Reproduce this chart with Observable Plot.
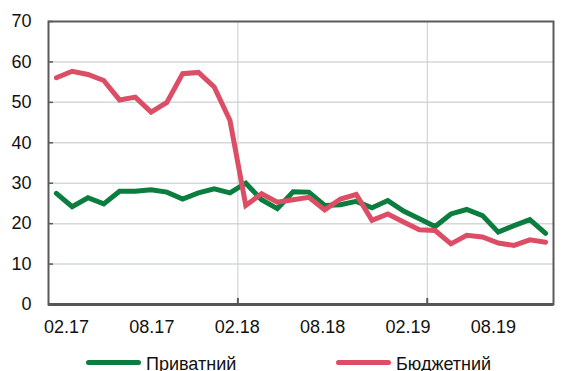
<!DOCTYPE html>
<html>
<head>
<meta charset="utf-8">
<script src="https://cdn.jsdelivr.net/npm/d3@7"></script>
<script src="https://cdn.jsdelivr.net/npm/@observablehq/plot@0.6"></script>
<style>
  html, body { margin: 0; padding: 0; background: #fff; }
  body { width: 576px; height: 371px; overflow: hidden; position: relative; font-family: "Liberation Sans", Arial, sans-serif; }
  #legend { position: absolute; left: 0; top: 345px; width: 576px; height: 40px; }
  .item { position: absolute; top: 9px; font-size: 18px; color: #111; white-space: nowrap; }
  .sw { display: inline-block; width: 55px; height: 5px; border-radius: 3px; vertical-align: middle; margin-right: 5px; position: relative; top: -3px; }
</style>
</head>
<body>
<div id="chart"></div>
<div id="legend"></div>
<script>
const months = ["01.17","02.17","03.17","04.17","05.17","06.17","07.17","08.17","09.17","10.17","11.17","12.17",
                "01.18","02.18","03.18","04.18","05.18","06.18","07.18","08.18","09.18","10.18","11.18","12.18",
                "01.19","02.19","03.19","04.19","05.19","06.19","07.19","08.19"];
const privateSeries = [27.5,24.2,26.4,24.9,28.0,28.0,28.4,27.8,26.1,27.6,28.6,27.6,
                       30.0,25.9,23.7,27.9,27.8,24.5,24.7,25.5,23.9,25.7,23.1,21.2,
                       19.3,22.4,23.5,22.0,17.9,19.5,21.0,17.6];
const budgetSeries = [56.1,57.7,56.9,55.4,50.6,51.3,47.6,50.0,57.1,57.4,53.8,45.5,
                      24.5,27.4,25.3,25.9,26.5,23.4,26.1,27.2,20.8,22.4,20.4,18.5,
                      18.3,15.0,17.1,16.7,15.2,14.6,16.0,15.4];
const seriesNames = ["Приватний", "Бюджетний"];
const seriesColors = ["#0b7d3e", "#dc4e66"];
const xTickLabels = ["02.17","08.17","02.18","08.18","02.19","08.19"];
const xTickPos = [0.64, 6.05, 11.46, 16.87, 22.28, 27.69];
const yTicks = [0,10,20,30,40,50,60,70];
const yearBreaks = [11.5, 23.5];

const data = [];
months.forEach((m, i) => {
  data.push({i, month: m, series: seriesNames[0], value: privateSeries[i]});
});
months.forEach((m, i) => {
  data.push({i, month: m, series: seriesNames[1], value: budgetSeries[i]});
});

const chart = Plot.plot({
  width: 576,
  height: 345,
  marginLeft: 48,
  marginRight: 23,
  marginTop: 21,
  marginBottom: 41,
  style: {fontFamily: "'Liberation Sans', Arial, sans-serif", fontSize: "18px", color: "#111"},
  x: {domain: [-0.5, months.length - 0.5], label: null},
  y: {domain: [0, 70], label: null},
  color: {domain: seriesNames, range: seriesColors},
  marks: [
    Plot.ruleY(yTicks.filter(d => d > 0 && d < 70), {stroke: "#d5d8db", strokeWidth: 1.5}),
    Plot.ruleX(yearBreaks, {stroke: "#c9ccd1", strokeWidth: 1}),
    Plot.ruleX(yearBreaks, {y1: 0, y2: 1.5, stroke: "#595959", strokeWidth: 2}),
    Plot.frame({stroke: "#5a5a5a", strokeWidth: 2}),
    Plot.ruleY([0], {stroke: "#555", strokeWidth: 3}),
    Plot.axisY(yTicks, {label: null, tickSize: -5, tickPadding: 22, stroke: "#5a5a5a", strokeWidth: 1.5, fill: "#111", fontSize: 18}),
    Plot.axisX(xTickPos, {label: null, tickSize: 0, tickPadding: 16, tickFormat: (d, k) => xTickLabels[k], fill: "#111", fontSize: 18}),
    Plot.line(data, {x: "i", y: "value", z: "series", stroke: "series", strokeWidth: 5, strokeLinejoin: "miter", strokeMiterlimit: 2, curve: "linear"})
  ]
});
document.getElementById("chart").appendChild(chart);

const legend = document.getElementById("legend");
const legendLeft = [86, 336];
seriesNames.forEach((name, k) => {
  const item = document.createElement("div");
  item.className = "item";
  item.style.left = legendLeft[k] + "px";
  const sw = document.createElement("span");
  sw.className = "sw";
  sw.style.background = seriesColors[k];
  item.appendChild(sw);
  item.appendChild(document.createTextNode(name));
  legend.appendChild(item);
});
</script>
</body>
</html>
